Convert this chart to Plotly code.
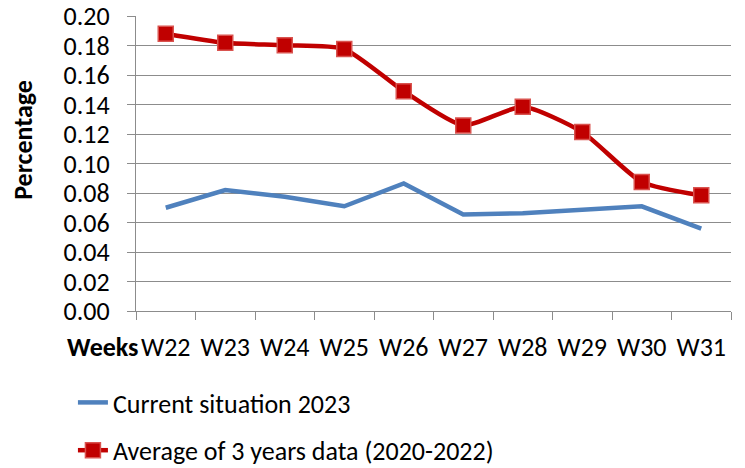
import plotly.graph_objects as go

weeks = ["W22", "W23", "W24", "W25", "W26", "W27", "W28", "W29", "W30", "W31"]
current_2023 = [0.070, 0.082, 0.0775, 0.071, 0.0865, 0.0655, 0.0663, 0.0683, 0.0710, 0.0558]
avg_2020_2022 = [0.188, 0.1818, 0.1802, 0.1776, 0.149, 0.1258, 0.1385, 0.1213, 0.0875, 0.0784]
y_ticks = [0.00, 0.02, 0.04, 0.06, 0.08, 0.10, 0.12, 0.14, 0.16, 0.18, 0.20]

FONT = "Carlito, 'Liberation Sans Narrow', 'Arial Narrow', sans-serif"

fig = go.Figure()
fig.add_trace(go.Scatter(
    x=weeks, y=current_2023, mode="lines", name="Current situation 2023",
    line=dict(color="#4F81BD", width=4.5), legendgroup="a"))
fig.add_trace(go.Scatter(
    x=weeks, y=avg_2020_2022, mode="lines+markers",
    name="Average of 3 years data (2020-2022)",
    line=dict(color="#C00000", width=4.5, shape="spline", smoothing=0.6),
    marker=dict(symbol="square", size=15, color="#C00000",
                line=dict(color="#D9534F", width=1.5)),
    legendgroup="b"))

grid = "#8C8C8C"
fig.update_layout(
    width=745, height=468,
    margin=dict(l=136, r=14, t=16, b=157, autoexpand=False),
    paper_bgcolor="white", plot_bgcolor="white",
    font=dict(family=FONT, size=26, color="black"),
    showlegend=True,
    legend=dict(x=-0.106, y=1 - 379 / 468, xanchor="left", yanchor="top",
                yref="container",
                orientation="v", tracegroupgap=11,
                font=dict(family=FONT, size=26, color="black"),
                bgcolor="rgba(0,0,0,0)"),
    xaxis=dict(type="category", range=[-0.5, 9.5], tickson="boundaries",
               ticks="outside", ticklen=8, tickcolor=grid, tickwidth=1.3,
               showline=True, linecolor=grid, linewidth=1.3,
               showgrid=False, ticklabelstandoff=13,
               tickfont=dict(family=FONT, size=26)),
    yaxis=dict(range=[0, 0.2], tickvals=y_ticks, tickformat=".2f",
               ticks="outside", ticklen=8, tickcolor=grid, tickwidth=1.3,
               showline=True, linecolor=grid, linewidth=1.3,
               showgrid=True, gridcolor=grid, gridwidth=1.3,
               zeroline=False, ticklabelstandoff=12,
               tickfont=dict(family=FONT, size=26)),
    annotations=[
        dict(text="<b>Weeks</b>", xref="paper", yref="paper",
             x=0.006, y=-0.122, xanchor="right", yanchor="middle",
             showarrow=False, font=dict(family=FONT, size=26)),
        dict(text="<b>Percentage</b>", xref="paper", yref="paper",
             x=-0.19, y=0.58, xanchor="center", yanchor="middle",
             textangle=-90, showarrow=False,
             font=dict(family=FONT, size=26)),
    ],
)

fig.write_html(
    "out.html",
    config={"displayModeBar": False},
    post_script="document.body.style.margin='0';document.body.style.overflow='hidden';",
)
